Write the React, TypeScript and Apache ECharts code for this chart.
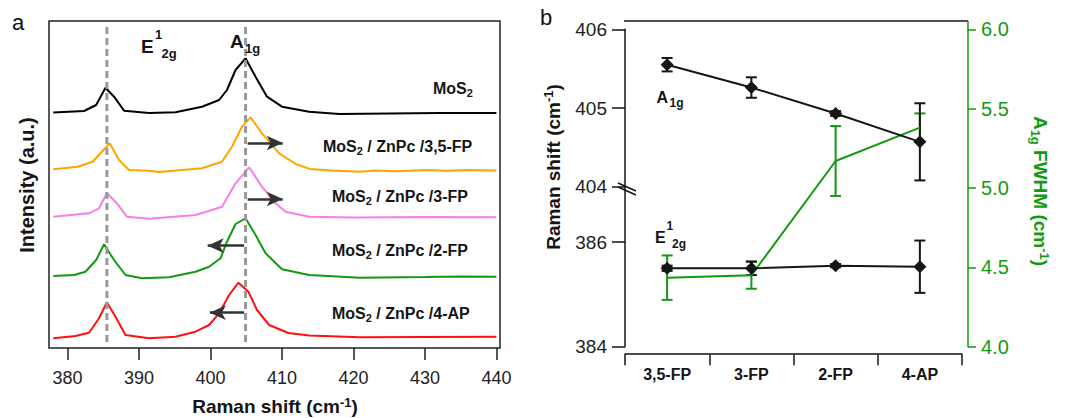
import React, { useEffect, useRef } from 'react';
import * as echarts from 'echarts';

const FONT = '"Liberation Sans", Arial, Helvetica, sans-serif';

// ---------- Panel a: Raman spectra, [Raman shift (cm-1), relative intensity] ----------
const specMoS2 = [[378.0,0.5],[382.3,2],[384.0,8],[385.3,25.3],[386.5,16.3],[387.9,2.3],[391.4,0],[395.1,0.7],[398.8,6.3],[401.2,13],[402.3,23],[403.5,43],[404.9,54.7],[406.3,36.3],[407.9,16.3],[410.0,6.3],[413.8,1.3],[418,-1],[425,-0.5],[432,0],[440,0]];
const spec35FP = [[378.0,1.2],[381.4,3.8],[383.5,8.8],[385.9,27.2],[387.2,10.5],[388.6,0.5],[391.4,-0.2],[392.8,-1.5],[396.0,0.5],[398.8,2.2],[401.6,8.8],[403.0,23.8],[404.4,43.8],[405.6,53.2],[407.2,37.2],[409.6,17.2],[411.9,6.5],[413.9,1.5],[417,0],[420.9,-1.2],[423,0],[426,-0.8],[430.2,0.5],[433,-0.3],[436,0.5],[440,0]];
const spec3FP = [[378.0,0.3],[383.0,3.7],[384.4,8.7],[385.5,23.7],[386.9,13.7],[388.3,0.3],[391.4,-1.7],[397.9,2],[400.2,7],[401.6,10.3],[403.5,33.7],[405.4,49.7],[407.2,30.3],[409.1,13.7],[410.5,5.3],[413.8,0.3],[420,-0.5],[430,0],[440,-0.3]];
const spec2FP = [[378.0,1],[380.9,2],[382.5,5.3],[384.0,17],[385.1,32.7],[386.5,17],[388.1,2],[390.4,-1.3],[394.2,-0.3],[397.9,5.3],[399.8,10.3],[401.4,18.7],[402.3,35.3],[403.5,53],[404.9,58.7],[406.3,42],[407.7,23.7],[410.0,7.7],[413.8,2],[420.9,-0.7],[430,0],[435,0.5],[440,0.3]];
const spec4AP = [[378.0,-1.3],[381.1,1],[383.0,4.3],[384.4,18.7],[385.5,34.7],[386.7,20.3],[388.1,2],[391.4,-1.3],[395.1,0.3],[397.9,5.3],[399.8,12],[401.2,23.7],[402.6,42],[403.9,54.3],[405.3,45.3],[406.5,27],[408.2,12],[410.9,4],[413.8,1.5],[420.9,-0.3],[430,0],[440,0.3]];

const spectra = [specMoS2, spec35FP, spec3FP, spec2FP, spec4AP];
const specOffsets = [235, 177.5, 131, 71, 11];
const specColors = ['#000000', '#ffa500', '#f77fe6', '#119a11', '#ff1010'];
const specSuffix = ['', ' / ZnPc /3,5-FP', ' / ZnPc /3-FP', ' / ZnPc /2-FP', ' / ZnPc /4-AP'];
const xTicksA = [380, 390, 400, 410, 420, 430, 440];
const peakE = 385.5;
const peakA = 404.9;
// shift arrows: [x start, x end, intensity level]
const shiftArrows = [null, [405.2, 410.1, 205], [405.2, 410.1, 149], [404.7, 399.6, 102.3], [404.7, 399.9, 35.3]];

// ---------- Panel b ----------
const samples = ['3,5-FP', '3-FP', '2-FP', '4-AP'];
const a1gShift = [405.55, 405.26, 404.93, 404.57];
const a1gErr = [0.085, 0.13, 0.03, 0.49];
const e2gShift = [385.5, 385.5, 385.55, 385.53];
const e2gErr = [0.05, 0.13, 0.03, 0.5];
const a1gFwhm = [4.435, 4.45, 5.17, 5.38];
const a1gFwhmErr = [0.14, 0.085, 0.22, 0.09];

const GREEN = '#139a13';
const INK = '#151515';

function errBarSeries(vals: number[], errs: number[], idx: number, color: string) {
  return {
    type: 'custom',
    xAxisIndex: idx,
    yAxisIndex: idx,
    encode: { x: 0, y: [1, 2] },
    data: vals.map((v, i) => [i, v - errs[i], v + errs[i]]),
    renderItem: (params: any, api: any) => {
      const i = api.value(0);
      const lo = api.coord([i, api.value(1)]);
      const hi = api.coord([i, api.value(2)]);
      const w = 5.5;
      const st = { stroke: color, lineWidth: 2 };
      return {
        type: 'group',
        children: [
          { type: 'line', shape: { x1: hi[0], y1: hi[1], x2: lo[0], y2: lo[1] }, style: st },
          { type: 'line', shape: { x1: hi[0] - w, y1: hi[1], x2: hi[0] + w, y2: hi[1] }, style: st },
          { type: 'line', shape: { x1: lo[0] - w, y1: lo[1], x2: lo[0] + w, y2: lo[1] }, style: st },
        ],
      };
    },
    z: 3,
  };
}

function txt(text: string, x: number, y: number, size: number, extra: any = {}) {
  return {
    type: 'text', x, y, z: 100,
    style: { text, fontSize: size, fontWeight: 'bold', fontFamily: FONT, fill: INK, align: 'left', verticalAlign: 'middle', ...extra },
  };
}

function richTitle(parts: string, x: number, y: number, rotation: number, color: string, size: number) {
  return {
    type: 'text', x, y, rotation, z: 100,
    style: {
      text: parts, align: 'center', verticalAlign: 'middle', fill: color,
      rich: {
        b: { fontSize: size, fontWeight: 'bold', fontFamily: FONT, fill: color, lineHeight: size + 3, verticalAlign: 'middle' },
        s: { fontSize: Math.round(size * 0.68), fontWeight: 'bold', fontFamily: FONT, fill: color, lineHeight: Math.round(size * 0.68), verticalAlign: 'bottom' },
        p: { fontSize: Math.round(size * 0.68), fontWeight: 'bold', fontFamily: FONT, fill: color, lineHeight: Math.round(size * 0.68), verticalAlign: 'top' },
      },
    },
  };
}

export default function App() {
  const ref = useRef<HTMLDivElement>(null);
  useEffect(() => {
    if (!ref.current) return;
    const chart = echarts.init(ref.current, undefined, { renderer: 'svg' });

    const specSeries: any[] = spectra.map((s, k) => {
      const arrow = shiftArrows[k];
      const ser: any = {
        type: 'line', xAxisIndex: 0, yAxisIndex: 0,
        data: s.map(([x, h]) => [x, h + specOffsets[k]]),
        symbol: 'none', smooth: false,
        lineStyle: { color: specColors[k], width: 2 },
        z: 2,
      };
      if (arrow) {
        ser.markLine = {
          silent: true, symbol: ['none', 'arrow'], symbolSize: [11, 16],
          label: { show: false },
          lineStyle: { color: '#333', width: 2.5, type: 'solid' },
          data: [[{ coord: [arrow[0], arrow[2]] }, { coord: [arrow[1], arrow[2]] }]],
        };
      }
      return ser;
    });

    const dashSeries = [peakE, peakA].map((p) => ({
      type: 'line', xAxisIndex: 0, yAxisIndex: 0,
      data: [[p, 6], [p, 322]], symbol: 'none',
      lineStyle: { color: '#999', width: 3, type: [7, 4] }, z: 5,
    }));

    const graphic: any[] = [
      // panel letters
      txt('a', 12, 22, 22, { fontWeight: 'normal', fill: '#111' }),
      txt('b', 540, 17, 22, { fontWeight: 'normal', fill: '#111' }),
      // panel a mode labels
      txt('E', 141, 46.2, 19),
      txt('1', 155, 34, 13),
      txt('2g', 161.5, 53.5, 13),
      txt('A', 230, 41.7, 19),
      txt('1g', 245, 48.5, 13),
      // panel a axis titles
      richTitle('{b|Raman shift (cm}{p|-1}{b|)}', 275, 406.5, 0, INK, 19),
      richTitle('{b|Intensity (a.u.)}', 27, 185, Math.PI / 2, INK, 20),
      // panel b
      txt('A', 656.5, 97.5, 16),
      txt('1g', 669.5, 102.5, 12),
      txt('E', 655, 237.5, 16),
      txt('1', 666.5, 226, 12),
      txt('2g', 672, 244, 12),
      richTitle('{b|Raman shift (cm}{p|-1}{b|)}', 553, 167, Math.PI / 2, INK, 19),
      richTitle('{b|A}{s|1g}{b| FWHM (cm}{p|-1}{b|)}', 1040, 191, -Math.PI / 2, GREEN, 19),
      { type: 'line', z: 50, shape: { x1: 624, y1: 21, x2: 968, y2: 21 }, style: { stroke: INK, lineWidth: 1.5 } },
      { type: 'line', z: 50, shape: { x1: 968, y1: 21, x2: 968, y2: 30 }, style: { stroke: GREEN, lineWidth: 1.5 } },
      { type: 'line', z: 50, shape: { x1: 618, y1: 183, x2: 636, y2: 191 }, style: { stroke: INK, lineWidth: 1.5 } },
      { type: 'line', z: 50, shape: { x1: 618, y1: 187, x2: 636, y2: 195 }, style: { stroke: INK, lineWidth: 1.5 } },
    ];

    spectra.forEach((_, k) => {
      const pos = [[433, 88], [323, 146.7], [332, 196.7], [332, 250], [332, 313.5]][k];
      graphic.push({
        type: 'text', x: pos[0], y: pos[1], z: 100,
        style: {
          text: '{b|MoS}{s|2}' + (specSuffix[k] ? '{b|' + specSuffix[k] + '}' : ''),
          align: 'left', verticalAlign: 'middle',
          rich: {
            b: { fontSize: 16, fontWeight: 'bold', fontFamily: FONT, fill: INK, lineHeight: 20, verticalAlign: 'middle' },
            s: { fontSize: 11, fontWeight: 'bold', fontFamily: FONT, fill: INK, lineHeight: 11, verticalAlign: 'bottom' },
          },
        },
      });
    });

    const axLine = { show: true, lineStyle: { color: INK, width: 1.5 } };

    const option: any = {
      animation: false,
      backgroundColor: '#ffffff',
      grid: [
        { left: 49, top: 21, width: 451, height: 327, show: true, borderColor: '#222', borderWidth: 1.5, backgroundColor: 'transparent' },
        { left: 625, top: 29.3, width: 337, height: 157.4 },
        { left: 625, top: 186.7, width: 337, height: 160 },
        { left: 625, top: 29.3, width: 337, height: 317.4 },
      ],
      xAxis: [
        {
          gridIndex: 0, type: 'value', min: 377.4, max: 440.5,
          axisLine: { show: false },
          axisTick: { show: true, length: 12, customValues: xTicksA, lineStyle: { color: '#222', width: 1.5 } },
          axisLabel: { customValues: xTicksA, fontSize: 18, color: '#222', fontFamily: FONT, margin: 21 },
          splitLine: { show: false },
        },
        { gridIndex: 1, type: 'category', data: samples, show: false },
        { gridIndex: 2, type: 'category', data: samples, show: false },
        {
          gridIndex: 3, type: 'category', data: samples, position: 'bottom', offset: 7.5, boundaryGap: true,
          axisLine: axLine,
          axisTick: { show: true, length: 11, alignWithLabel: false, lineStyle: { color: INK, width: 1.5 } },
          axisLabel: { fontSize: 16, fontWeight: 'bold', color: INK, fontFamily: FONT, margin: 12 },
        },
      ],
      yAxis: [
        { gridIndex: 0, type: 'value', min: 0, max: 327, show: false },
        {
          gridIndex: 1, type: 'value', min: 404, max: 406, interval: 1, position: 'left',
          axisLine: axLine,
          axisTick: { show: true, length: 13, lineStyle: { color: INK, width: 1.5 } },
          axisLabel: { fontSize: 19, color: '#222', fontFamily: FONT, margin: 18 },
          splitLine: { show: false },
        },
        {
          gridIndex: 2, type: 'value', min: 384, max: 387.06, interval: 2, position: 'left',
          axisLine: axLine,
          axisTick: { show: true, length: 13, lineStyle: { color: INK, width: 1.5 } },
          axisLabel: { fontSize: 19, color: '#222', fontFamily: FONT, margin: 18, showMaxLabel: false },
          splitLine: { show: false },
        },
        {
          gridIndex: 3, type: 'value', min: 4, max: 6, interval: 0.5, position: 'right', offset: 6,
          axisLine: { show: true, lineStyle: { color: GREEN, width: 1.5 } },
          axisTick: { show: true, length: 8, lineStyle: { color: GREEN, width: 1.5 } },
          axisLabel: { fontSize: 20, color: GREEN, fontFamily: FONT, margin: 13, formatter: (v: number) => v.toFixed(1) },
          splitLine: { show: false },
        },
      ],
      series: [
        ...specSeries,
        ...dashSeries,
        errBarSeries(a1gFwhm, a1gFwhmErr, 3, GREEN),
        {
          type: 'line', xAxisIndex: 3, yAxisIndex: 3, data: a1gFwhm, symbol: 'none',
          lineStyle: { color: GREEN, width: 2 }, z: 3,
        },
        errBarSeries(a1gShift, a1gErr, 1, INK),
        {
          type: 'line', xAxisIndex: 1, yAxisIndex: 1, data: a1gShift, symbol: 'diamond', symbolSize: 13,
          itemStyle: { color: INK }, lineStyle: { color: INK, width: 2 }, z: 4,
        },
        errBarSeries(e2gShift, e2gErr, 2, INK),
        {
          type: 'line', xAxisIndex: 2, yAxisIndex: 2, data: e2gShift, symbol: 'diamond', symbolSize: 13,
          itemStyle: { color: INK }, lineStyle: { color: INK, width: 2 }, z: 4,
        },
      ],
      graphic,
    };

    chart.setOption(option);
    return () => chart.dispose();
  }, []);

  return <div ref={ref} style={{ position: 'fixed', left: 0, top: 0, width: 1090, height: 418, background: '#fff' }} />;
}
